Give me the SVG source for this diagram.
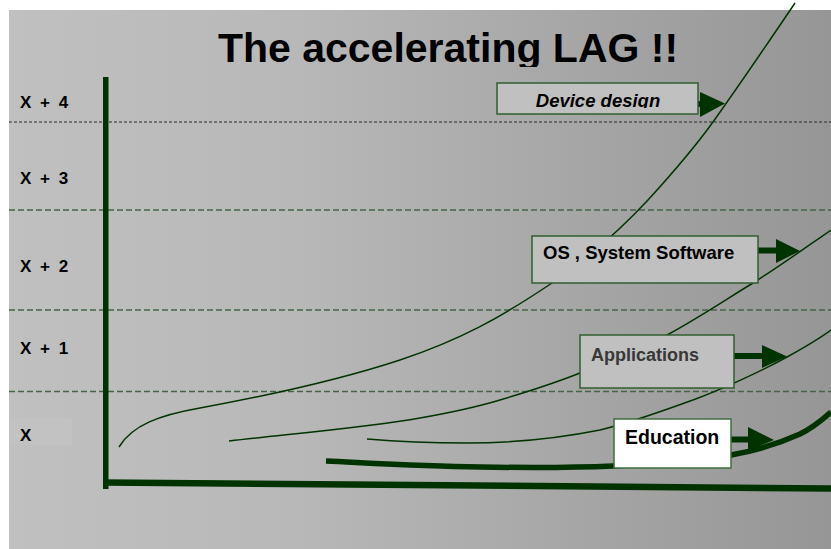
<svg xmlns="http://www.w3.org/2000/svg" width="831" height="549" viewBox="0 0 831 549">
  <defs>
    <linearGradient id="bg" x1="0" y1="0" x2="1" y2="0">
      <stop offset="0" stop-color="#c0c0c0"/>
      <stop offset="0.35" stop-color="#b8b8b8"/>
      <stop offset="1" stop-color="#969696"/>
    </linearGradient>
    <clipPath id="titleClip"><rect x="0" y="0" width="831" height="67"/></clipPath>
    <clipPath id="devClip"><rect x="497" y="83" width="201" height="25"/></clipPath>
    <style>
      .lbl { font-family: "Liberation Sans", Arial, sans-serif; font-weight: bold; font-size: 17px; fill: #000; word-spacing: 4px; }
      .box { stroke: #2f5f2f; stroke-width: 1.5; }
      .gray { fill: #c0c0c0; }
      .btxt { font-family: "Liberation Sans", Arial, sans-serif; font-weight: bold; fill: #000; }
      .dash { stroke: #456445; stroke-width: 1.3; stroke-dasharray: 6 3; fill: none; }
      .curve { stroke: #003300; stroke-width: 1.5; fill: none; }
      .head { fill: #003300; }
    </style>
  </defs>

  <rect x="9" y="10" width="822" height="539" fill="url(#bg)"/>
  <rect x="9" y="418" width="63" height="27" fill="#c2c2c2"/>

  <g id="gridlines">
    <line x1="9" y1="122" x2="831" y2="122" stroke="#2a2a2a" stroke-width="1" stroke-dasharray="3 2"/>
    <line class="dash" x1="9" y1="210" x2="831" y2="210"/>
    <line class="dash" x1="9" y1="310" x2="831" y2="310"/>
    <line class="dash" x1="9" y1="391.5" x2="831" y2="391.5"/>
  </g>

  <g id="title" clip-path="url(#titleClip)">
    <text x="448" y="62" text-anchor="middle" font-family="'Liberation Sans', Arial, sans-serif" font-weight="bold" font-size="41" fill="#000">The accelerating LAG !!</text>
  </g>

  <g id="ylabels">
    <text class="lbl" x="20" y="108">X + 4</text>
    <text class="lbl" x="20" y="184">X + 3</text>
    <text class="lbl" x="20" y="272">X + 2</text>
    <text class="lbl" x="20" y="354">X + 1</text>
    <text class="lbl" x="20" y="441">X</text>
  </g>

  <g id="axes">
    <rect x="103" y="77" width="5.5" height="412" fill="#003300"/>
    <line x1="103" y1="482.5" x2="831" y2="488.5" stroke="#003300" stroke-width="6.5"/>
  </g>

  <g id="connectors">
    <path class="curve" d="M119,447 C132,425 160,415 200,408 C260,397 330,383 400,360 C460,340 500,318 552,283 C590,257 620,230 648,200 C680,165 700,140 713,122 C740,84 770,40 795,3"/>
    <path class="curve" d="M229,441 C300,433 370,427 420,418 C460,411 480,406 500,400 C530,391 555,383 580,373 C610,361 640,350 667,335 C700,317 725,300 753,283 C780,266 805,248 831,230"/>
    <path class="curve" d="M367,439 C390,441 420,443 467,443 C520,443 560,438 600,430 C630,423 660,412 693,400 C720,390 760,372 787,357 C805,347 820,338 831,330"/>
    <path d="M326,461 C370,463 420,466 480,467 C540,468 590,467 613,466 C650,464 700,460 731,455 C760,450 780,443 800,434 C812,428 822,420 831,412" stroke="#003300" stroke-width="5.5" fill="none"/>

    <rect x="697" y="101" width="5" height="6" class="head"/>
    <polygon class="head" points="700,92 725,103.5 700,117"/>
    <rect x="757" y="247.5" width="21" height="6" class="head"/>
    <polygon class="head" points="776,239 800,251 776,263"/>
    <rect x="733" y="353" width="31" height="6" class="head"/>
    <polygon class="head" points="762,345 787,356.5 762,368"/>
    <rect x="730" y="436.5" width="20" height="6" class="head"/>
    <polygon class="head" points="748,427 774,440 748,451"/>
  </g>

  <g id="device">
    <rect class="box gray" x="497" y="83" width="201" height="31"/>
    <text class="btxt" x="598" y="107" text-anchor="middle" style="font-style:italic;font-size:18.5px" clip-path="url(#devClip)">Device design</text>
  </g>

  <g id="os">
    <rect class="box gray" x="532" y="236" width="226" height="47"/>
    <text class="btxt" x="543" y="259" style="font-size:18.5px">OS , System Software</text>
  </g>

  <g id="apps">
    <rect class="box gray" x="580" y="335" width="154" height="53"/>
    <text class="btxt" x="591" y="361" style="font-size:18px;fill:#383838">Applications</text>
  </g>

  <g id="education">
    <rect class="box" x="614" y="419" width="117" height="49" fill="#ffffff" style="stroke:#3f6f3f"/>
    <text class="btxt" x="625" y="444" style="font-size:19.5px">Education</text>
  </g>
</svg>
